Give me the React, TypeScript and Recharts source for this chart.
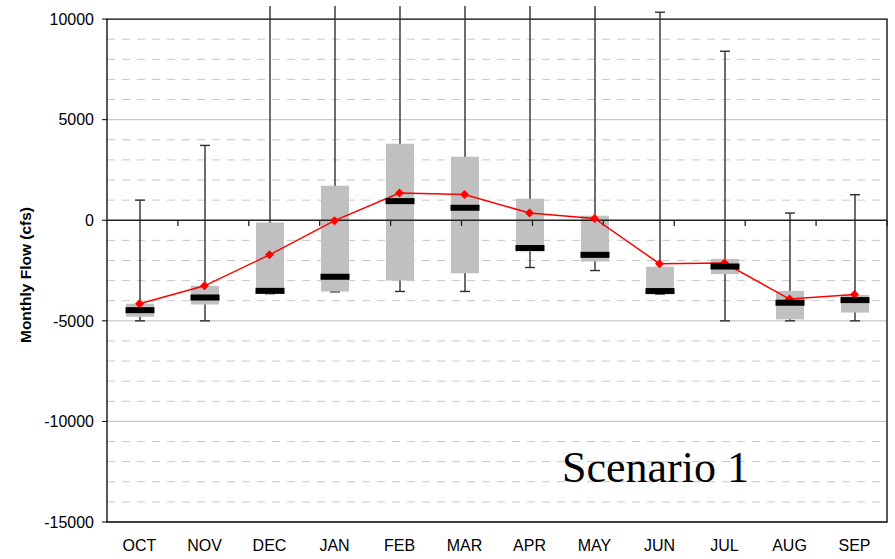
import React from "react";
import {
  ComposedChart,
  Bar,
  Line,
  Scatter,
  XAxis,
  YAxis,
  ReferenceLine,
  ReferenceArea,
} from "recharts";

// ── Monthly flow statistics (cfs) ─────────────────────────────────────────────

const MONTHS = ["OCT", "NOV", "DEC", "JAN", "FEB", "MAR", "APR", "MAY", "JUN", "JUL", "AUG", "SEP"];

const FLOW_MIN = [-5000, -5000, -3650, -3560, -3540, -3540, -2350, -2500, -3670, -5000, -5000, -5000];
const FLOW_Q1 = [-4800, -4190, -3650, -3540, -2990, -2640, -1550, -2050, -3670, -2680, -4930, -4590];
const FLOW_MEDIAN = [-4470, -3840, -3510, -2810, 950, 620, -1380, -1720, -3520, -2300, -4100, -3970];
const FLOW_Q3 = [-4150, -3260, -110, 1720, 3800, 3160, 1070, 220, -2310, -1920, -3510, -3710];
const FLOW_MAX = [1000, 3720, 18000, 24000, 31000, 27000, 21000, 16000, 10340, 8400, 360, 1270];
const FLOW_MEAN = [-4150, -3260, -1720, -20, 1350, 1280, 360, 90, -2160, -2130, -3920, -3690];

// ── Axis / grid values ───────────────────────────────────────────────────────

const Y_TICKS = [-15000, -10000, -5000, 0, 5000, 10000];
const MAJOR_GRID = [-10000, -5000, 5000];
const MINOR_GRID = [
  -14000, -13000, -12000, -11000, -9000, -8000, -7000, -6000, -4000, -3000,
  -2000, -1000, 1000, 2000, 3000, 4000, 6000, 7000, 8000, 9000,
];
const MONTH_BOUNDARIES = [1, 2, 3, 4, 5, 6, 7, 8, 9, 10, 11];

const data = MONTHS.map((month, i) => ({
  month,
  min: FLOW_MIN[i],
  q1: FLOW_Q1[i],
  median: FLOW_MEDIAN[i],
  q3: FLOW_Q3[i],
  max: FLOW_MAX[i],
  mean: FLOW_MEAN[i],
}));

// ── Styles ───────────────────────────────────────────────────────────────────

const SANS = "Arial, 'Liberation Sans', sans-serif";
const BOX_FILL = "#C0C0C0";
const WHISKER = "#303030";
const MEAN_RED = "#FF0000";
const GRID = "#C8C8C8";

const tickStyle = { fontSize: 16, fill: "#000", fontFamily: SANS };

// ── Custom shapes ────────────────────────────────────────────────────────────

function WhiskerShape(props: any) {
  const { x, y, width, height } = props;
  const cx = x + width / 2;
  const top = Math.min(y, y + height);
  const bottom = Math.max(y, y + height);
  return (
    <g stroke={WHISKER} strokeWidth={1.4}>
      <line x1={cx} x2={cx} y1={top} y2={bottom} />
      <line x1={x} x2={x + width} y1={top} y2={top} />
      <line x1={x} x2={x + width} y1={bottom} y2={bottom} />
    </g>
  );
}

function MedianShape(props: any) {
  const { cx, cy } = props;
  return <rect x={cx - 14} y={cy - 3} width={29} height={6} fill="#000" />;
}

function Diamond(props: any) {
  const { cx, cy } = props;
  if (cx == null || cy == null) return null;
  const r = 4.5;
  return (
    <path
      d={`M${cx},${cy - r}L${cx + r},${cy}L${cx},${cy + r}L${cx - r},${cy}Z`}
      fill={MEAN_RED}
      stroke="none"
    />
  );
}

function AxisTitle({ viewBox }: any) {
  const x = viewBox.x + 31;
  const y = viewBox.y + viewBox.height / 2 + 11;
  return (
    <text
      x={x}
      y={y}
      transform={`rotate(-90, ${x}, ${y})`}
      textAnchor="middle"
      fontFamily={SANS}
      fontWeight="bold"
      fontSize={15.5}
      fill="#000"
    >
      Monthly Flow (cfs)
    </text>
  );
}

// ── Chart ────────────────────────────────────────────────────────────────────

export default function App() {
  return (
    <div style={{ position: "absolute", left: 0, top: 0, width: 895, height: 559, background: "#fff" }}>
      <ComposedChart
        width={895}
        height={559}
        data={data}
        margin={{ top: 6, right: 8, bottom: 0, left: 0 }}
      >
        <XAxis
          dataKey="month"
          interval={0}
          axisLine={false}
          tickLine={false}
          tickSize={0}
          tickMargin={18}
          height={37}
          tick={tickStyle}
        />
        <XAxis xAxisId="whisker" dataKey="month" hide />
        <XAxis xAxisId="edge" type="number" domain={[0, 12]} hide />
        <YAxis
          type="number"
          domain={[-15000, 10650]}
          allowDataOverflow
          ticks={Y_TICKS}
          interval={0}
          width={107}
          axisLine={false}
          tickSize={5}
          tickMargin={8}
          tickLine={{ stroke: "#000" }}
          tick={tickStyle}
          label={{ content: <AxisTitle /> }}
        />

        {/* Light gridlines: dashed every 1000, solid every 5000 */}
        {MINOR_GRID.map((v) => (
          <ReferenceLine key={`mn${v}`} y={v} stroke={GRID} strokeWidth={1} strokeDasharray="8 7" zIndex={-100} />
        ))}
        {MAJOR_GRID.map((v) => (
          <ReferenceLine key={`mj${v}`} y={v} stroke={GRID} strokeWidth={1.3} zIndex={-100} />
        ))}

        {/* Plot frame from -15000 to 10000 */}
        <ReferenceArea y1={-15000} y2={10000} fill="none" fillOpacity={0} stroke="#000" strokeWidth={1.3} zIndex={-50} />

        <Bar
          xAxisId="whisker"
          dataKey={(d: any) => [d.min, d.max]}
          barSize={10}
          shape={<WhiskerShape />}
          isAnimationActive={false}
          zIndex={300}
        />
        <Bar
          dataKey={(d: any) => [d.q1, d.q3]}
          barSize={28}
          fill={BOX_FILL}
          isAnimationActive={false}
          zIndex={310}
        />

        <ReferenceLine y={0} stroke="#222" strokeWidth={1.3} zIndex={350} />
        {MONTH_BOUNDARIES.map((b) => (
          <ReferenceLine
            key={`b${b}`}
            xAxisId="edge"
            segment={[{ x: b, y: 0 }, { x: b, y: -280 }]}
            stroke="#222"
            strokeWidth={1.3}
            zIndex={350}
          />
        ))}

        <Line
          dataKey="mean"
          stroke={MEAN_RED}
          strokeWidth={1.5}
          dot={<Diamond />}
          activeDot={false}
          isAnimationActive={false}
          zIndex={400}
        />
        <Scatter dataKey="median" shape={<MedianShape />} isAnimationActive={false} zIndex={600} />
      </ComposedChart>

      <svg width={895} height={559} style={{ position: "absolute", left: 0, top: 0, pointerEvents: "none" }}>
        <text x={562} y={482} fontFamily="'Liberation Serif', 'Times New Roman', serif" fontSize={44} fill="#000">
          Scenario 1
        </text>
      </svg>
    </div>
  );
}
